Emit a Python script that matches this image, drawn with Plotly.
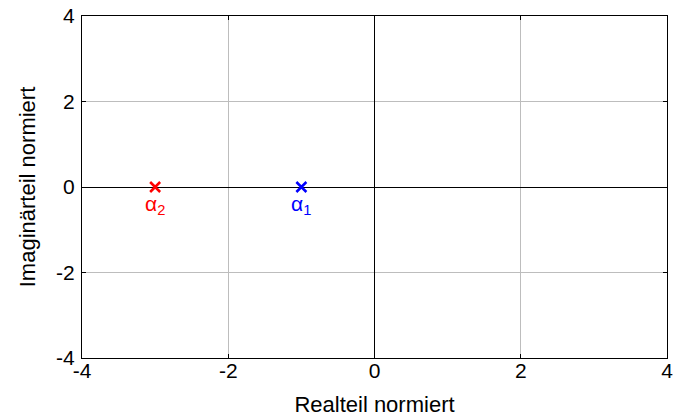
import plotly.graph_objects as go

pole_names = ["α<sub>1</sub>", "α<sub>2</sub>"]
pole_re = [-1, -3]
pole_im = [0, 0]
pole_colors = ["#0000ff", "#ff0000"]
tick_vals = [-4, -2, 0, 2, 4]
tick_text = ["-4", "-2", "0", "2", "4"]

FONT = "Liberation Sans, Arial, sans-serif"

fig = go.Figure()
for name, xr, yi, c in zip(pole_names, pole_re, pole_im, pole_colors):
    fig.add_trace(go.Scatter(
        x=[xr], y=[yi], mode="markers",
        marker=dict(symbol="x-thin", size=10, line=dict(width=2.5, color=c), color=c),
        showlegend=False, hoverinfo="skip"))
    fig.add_annotation(x=xr, y=yi, text=name, showarrow=False,
                       xanchor="center", yanchor="top", yshift=-3, xshift=0,
                       font=dict(size=21, color=c, family=FONT))

axis_common = dict(
    range=[-4, 4], tickmode="array", tickvals=tick_vals, ticktext=tick_text,
    showgrid=True, gridcolor="#bdbdbd", gridwidth=1,
    zeroline=True, zerolinecolor="#000000", zerolinewidth=1.3,
    showline=True, linecolor="#000000", linewidth=1.3, mirror="ticks",
    ticks="inside", ticklen=4, tickcolor="#000000",
    tickfont=dict(size=21, color="#000000", family=FONT), fixedrange=True,
    automargin=False,
)
fig.update_xaxes(**axis_common, ticklabelstandoff=-6,
                 title=dict(text="Realteil normiert", font=dict(size=22, family=FONT, color="#000000"), standoff=17))
fig.update_yaxes(**axis_common, ticklabelstandoff=2,
                 title=dict(text="Imaginärteil normiert", font=dict(size=22, family=FONT, color="#000000"), standoff=14))

fig.update_layout(
    width=675, height=417,
    margin=dict(l=82, r=8, t=16, b=59),
    paper_bgcolor="white", plot_bgcolor="white",
    font=dict(family=FONT, color="#000000", size=21),
)
fig.write_html("out.html", config={"displayModeBar": False},
               post_script="document.body.style.margin='0';document.body.style.padding='0';")
